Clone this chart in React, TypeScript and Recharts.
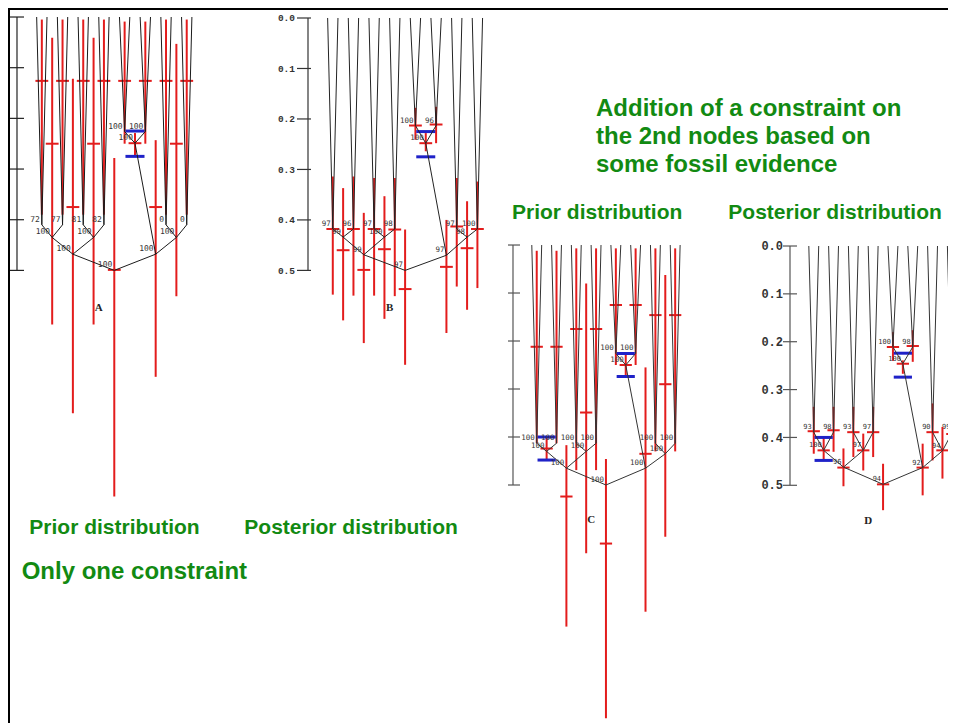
import { ScatterChart, Scatter, XAxis, YAxis, ErrorBar } from "recharts"

// tree topology: 16 leaves, 15 internal nodes (cherries c, then d, e, root)
const LEAF_X = [0, 1, 2, 3, 4, 5, 6, 7, 8, 9, 10, 11, 12, 13, 14, 15]
const NODE_NAMES = ["c0", "c1", "c2", "c3", "c4", "c5", "c6", "c7", "d0", "d1", "d2", "d3", "e0", "e1", "r"]
const NODE_X = [0.5, 2.5, 4.5, 6.5, 8.5, 10.5, 12.5, 14.5, 1.5, 5.5, 9.5, 13.5, 3.5, 11.5, 7.5]
const NODE_CHILDREN = [
  ["L0", "L1"], ["L2", "L3"], ["L4", "L5"], ["L6", "L7"],
  ["L8", "L9"], ["L10", "L11"], ["L12", "L13"], ["L14", "L15"],
  ["c0", "c1"], ["c2", "c3"], ["c4", "c5"], ["c6", "c7"],
  ["d0", "d1"], ["d2", "d3"], ["e0", "e1"]
]
const AGE_TICKS = [0, 0.1, 0.2, 0.3, 0.4, 0.5]

// A: prior, one constraint
const A_TREE = [0.41, 0.41, 0.41, 0.41, 0.226, 0.226, 0.41, 0.41, 0.435, 0.435, 0.249, 0.435, 0.468, 0.468, 0.5]
const A_MEAN = [0.126, 0.126, 0.126, 0.126, 0.126, 0.126, 0.126, 0.126, 0.25, 0.25, 0.249, 0.25, 0.375, 0.375, 0.499]
const A_LOW = [0.005, 0.005, 0.005, 0.005, 0.009, 0.009, 0.005, 0.005, 0.041, 0.041, 0.229, 0.053, 0.122, 0.243, 0.278]
const A_HIGH = [0.39, 0.39, 0.39, 0.39, 0.25, 0.25, 0.39, 0.39, 0.607, 0.607, 0.275, 0.551, 0.782, 0.71, 0.946]
const A_SUPPORT = ["72", "77", "81", "82", "100", "100", "0", "0", "100", "100", "100", "100", "100", "100", "100"]
const A_CON_NODES = ["d2"]
const A_CON_LOW = [0.225]
const A_CON_HIGH = [0.275]

// B: posterior, one constraint
const B_TREE = [0.418, 0.418, 0.418, 0.418, 0.213, 0.213, 0.418, 0.418, 0.434, 0.434, 0.248, 0.434, 0.469, 0.47, 0.5]
const B_MEAN = [0.418, 0.418, 0.418, 0.419, 0.213, 0.211, 0.413, 0.418, 0.46, 0.458, 0.248, 0.456, 0.499, 0.493, 0.537]
const B_LOW = [0.314, 0.314, 0.317, 0.317, 0.178, 0.176, 0.317, 0.324, 0.337, 0.353, 0.228, 0.363, 0.386, 0.4, 0.419]
const B_HIGH = [0.548, 0.55, 0.55, 0.551, 0.241, 0.248, 0.532, 0.535, 0.599, 0.596, 0.264, 0.578, 0.644, 0.624, 0.687]
const B_SUPPORT = ["97", "96", "97", "98", "100", "96", "97", "100", "99", "100", "100", "98", "99", "97", "97"]
const B_CON_NODES = ["d2"]
const B_CON_LOW = [0.225]
const B_CON_HIGH = [0.275]

// C: prior, two constraints
const C_TREE = [0.413, 0.413, 0.413, 0.413, 0.226, 0.226, 0.413, 0.413, 0.43, 0.43, 0.25, 0.435, 0.465, 0.465, 0.5]
const C_MEAN = [0.212, 0.212, 0.175, 0.175, 0.125, 0.125, 0.146, 0.146, 0.424, 0.349, 0.25, 0.29, 0.524, 0.435, 0.622]
const C_LOW = [0.012, 0.012, 0.007, 0.007, 0.007, 0.007, 0.007, 0.007, 0.4, 0.08, 0.226, 0.0625, 0.417, 0.255, 0.446]
const C_HIGH = [0.413, 0.413, 0.469, 0.469, 0.25, 0.25, 0.43, 0.43, 0.448, 0.642, 0.274, 0.608, 0.795, 0.764, 0.986]
const C_SUPPORT = ["100", "100", "100", "100", "100", "100", "100", "100", "100", "100", "100", "100", "100", "100", "100"]
const C_CON_NODES = ["d2", "d0"]
const C_CON_LOW = [0.226, 0.4]
const C_CON_HIGH = [0.274, 0.448]

// D: posterior, two constraints
const D_TREE = [0.389, 0.389, 0.389, 0.389, 0.211, 0.211, 0.389, 0.389, 0.427, 0.427, 0.246, 0.428, 0.462, 0.463, 0.498]
const D_MEAN = [0.387, 0.385, 0.389, 0.389, 0.211, 0.209, 0.389, 0.393, 0.427, 0.427, 0.246, 0.427, 0.463, 0.463, 0.498]
const D_LOW = [0.336, 0.336, 0.336, 0.336, 0.18, 0.176, 0.329, 0.336, 0.4, 0.392, 0.239, 0.378, 0.423, 0.413, 0.455]
const D_HIGH = [0.434, 0.43, 0.441, 0.441, 0.24, 0.242, 0.448, 0.455, 0.448, 0.469, 0.267, 0.486, 0.502, 0.521, 0.552]
const D_SUPPORT = ["93", "98", "93", "97", "100", "98", "90", "99", "100", "97", "100", "94", "96", "92", "94"]
const D_CON_NODES = ["d2", "d0"]
const D_CON_LOW = [0.224, 0.4]
const D_CON_HIGH = [0.274, 0.448]

const X_MIN = -1.9
const X_MAX = 16
const AGE_MAX = 1
const Y_AXIS_W = 40
const TOP_PAD = 12
const CROSS_HALF = 0.62
const BLUE_HALF = 0.92
const RED = "#e31c1c"
const BLUE = "#1f22c8"
const GREEN = "#128a12"

const PANELS = [
  { letter: "A", tree: A_TREE, mean: A_MEAN, low: A_LOW, high: A_HIGH, support: A_SUPPORT,
    cNodes: A_CON_NODES, cLow: A_CON_LOW, cHigh: A_CON_HIGH,
    axisX: 8.7, top: 9.3, spacing: 10.35, pxPerAge: 506.8, tickSize: 9, tickMargin: 2, tickExt: 7,
    showLabels: false, tickFont: 10, labelFont: 8, axisColor: "#222", branchColor: "#1a1a1a" },
  { letter: "B", tree: B_TREE, mean: B_MEAN, low: B_LOW, high: B_HIGH, support: B_SUPPORT,
    cNodes: B_CON_NODES, cLow: B_CON_LOW, cHigh: B_CON_HIGH,
    axisX: 300, top: 10.3, spacing: 10.33, pxPerAge: 504.8, tickSize: 11, tickMargin: 2, tickExt: 3,
    showLabels: true, tickFont: 9.5, labelFont: 7.5, axisColor: "#333", branchColor: "#222" },
  { letter: "C", tree: C_TREE, mean: C_MEAN, low: C_LOW, high: C_HIGH, support: C_SUPPORT,
    cNodes: C_CON_NODES, cLow: C_CON_LOW, cHigh: C_CON_HIGH,
    axisX: 505.3, top: 237, spacing: 9.89, pxPerAge: 480, tickSize: 5, tickMargin: 2, tickExt: 7,
    showLabels: false, tickFont: 10, labelFont: 7.5, axisColor: "#555", branchColor: "#333" },
  { letter: "D", tree: D_TREE, mean: D_MEAN, low: D_LOW, high: D_HIGH, support: D_SUPPORT,
    cNodes: D_CON_NODES, cLow: D_CON_LOW, cHigh: D_CON_HIGH,
    axisX: 782, top: 237.7, spacing: 9.9, pxPerAge: 478.6, tickSize: 7, tickMargin: 0, tickExt: 7,
    showLabels: true, tickFont: 12, labelFont: 7, axisColor: "#555", branchColor: "#333" }
]

const empty = () => <g />

function AgeTick(props: any) {
  const { x, y, payload, cfg } = props
  const x0 = x + cfg.tickMargin
  return (
    <g>
      <line x1={x0} x2={x0 + cfg.tickSize + cfg.tickExt} y1={y} y2={y} stroke={cfg.axisColor} strokeWidth={1.2} />
      {cfg.showLabels && (
        <text x={x} y={y} dy={cfg.tickFont * 0.35} textAnchor="end" fontFamily="'Liberation Mono', monospace"
          fontWeight="bold" fontSize={cfg.tickFont} fill="#333">
          {Number(payload.value).toFixed(1)}
        </text>
      )}
    </g>
  )
}

function TreePanel({ cfg }: { cfg: any }) {
  const plotW = (X_MAX - X_MIN) * cfg.spacing
  const plotH = AGE_MAX * cfg.pxPerAge
  const idx = (n: string) => NODE_NAMES.indexOf(n)
  const pos = (n: string) =>
    n[0] === "L" ? { x: LEAF_X[Number(n.slice(1))], y: 0 } : { x: NODE_X[idx(n)], y: cfg.tree[idx(n)] }

  const branches = NODE_NAMES.map((n, i) => [pos(NODE_CHILDREN[i][0]), pos(n), pos(NODE_CHILDREN[i][1])])
  const bars = NODE_NAMES.map((n, i) => ({
    x: NODE_X[i], y: cfg.mean[i], ey: [cfg.mean[i] - cfg.low[i], cfg.high[i] - cfg.mean[i]]
  }))
  const blue = cfg.cNodes.flatMap((n: string, k: number) => [
    { x: NODE_X[idx(n)], y: cfg.cLow[k] },
    { x: NODE_X[idx(n)], y: cfg.cHigh[k] }
  ])
  const labels = NODE_NAMES.map((n, i) => ({ x: NODE_X[i], y: cfg.tree[i], label: cfg.support[i] }))
  const spine = [{ x: X_MIN, y: 0 }, { x: X_MIN, y: 0.5 }]
  const letter = [{ x: 6, y: 0.58, label: cfg.letter }]

  return (
    <div style={{ position: "absolute", left: cfg.axisX - Y_AXIS_W, top: cfg.top - TOP_PAD }}>
      <ScatterChart width={plotW + Y_AXIS_W} height={plotH + TOP_PAD}
        margin={{ top: TOP_PAD, right: 0, bottom: 0, left: 0 }}>
        <XAxis type="number" dataKey="x" domain={[X_MIN, X_MAX]} hide />
        <YAxis type="number" dataKey="y" domain={[0, AGE_MAX]} reversed ticks={AGE_TICKS} interval={0}
          width={Y_AXIS_W} axisLine={false} tickLine={false} tickSize={cfg.tickSize} tickMargin={cfg.tickMargin}
          tick={(p: any) => <AgeTick {...p} cfg={cfg} />} />
        <Scatter data={spine} line={{ stroke: cfg.axisColor, strokeWidth: 1.2 }} shape={empty} isAnimationActive={false} />
        {branches.map((b, i) => (
          <Scatter key={"b" + i} data={b} line={{ stroke: cfg.branchColor, strokeWidth: 1 }} shape={empty}
            isAnimationActive={false} />
        ))}
        <Scatter data={bars} shape={empty} isAnimationActive={false}>
          <ErrorBar dataKey="ey" direction="y" width={0} stroke={RED} strokeWidth={2} />
          <ErrorBar dataKey={() => CROSS_HALF} direction="x" width={0} stroke={RED} strokeWidth={2} />
        </Scatter>
        <Scatter data={blue} shape={empty} isAnimationActive={false}>
          <ErrorBar dataKey={() => BLUE_HALF} direction="x" width={0} stroke={BLUE} strokeWidth={3} />
        </Scatter>
        <Scatter data={labels} isAnimationActive={false}
          shape={(p: any) => (
            <text x={p.cx - 2} y={p.cy - 3} textAnchor="end" fontFamily="'DejaVu Sans Mono', monospace"
              fontSize={cfg.labelFont} fill="#333">
              {p.payload.label}
            </text>
          )} />
        <Scatter data={letter} isAnimationActive={false}
          shape={(p: any) => (
            <text x={p.cx} y={p.cy} textAnchor="middle" fontFamily="'Liberation Serif', serif"
              fontWeight="bold" fontSize={11} fill="#222">
              {p.payload.label}
            </text>
          )} />
      </ScatterChart>
    </div>
  )
}

const TITLE_LINES = ["Addition of a constraint on", "the 2nd nodes based on", "some fossil evidence"]

export default function App() {
  const font = "'Liberation Sans', Arial, sans-serif"
  return (
    <div style={{ position: "relative", width: 948, height: 715, overflow: "hidden", background: "#fff" }}>
      {PANELS.map((cfg) => <TreePanel key={cfg.letter} cfg={cfg} />)}
      <svg width={948} height={715} style={{ position: "absolute", left: 0, top: 0, pointerEvents: "none" }}>
        <line x1={0} x2={948} y1={1} y2={1} stroke="#000" strokeWidth={2} />
        <line x1={1} x2={1} y1={0} y2={715} stroke="#000" strokeWidth={2} />
        <g fontFamily={font} fontWeight="bold" fill={GREEN}>
          {TITLE_LINES.map((t, i) => (
            <text key={t} x={588} y={108 + i * 28} fontSize={24}>{t}</text>
          ))}
          <text x={504} y={211.3} fontSize={21}>Prior distribution</text>
          <text x={720.3} y={211.3} fontSize={21}>Posterior distribution</text>
          <text x={21.3} y={526.3} fontSize={21}>Prior distribution</text>
          <text x={236.3} y={526.3} fontSize={21}>Posterior distribution</text>
          <text x={13.7} y={571} fontSize={24}>Only one constraint</text>
        </g>
      </svg>
    </div>
  )
}
